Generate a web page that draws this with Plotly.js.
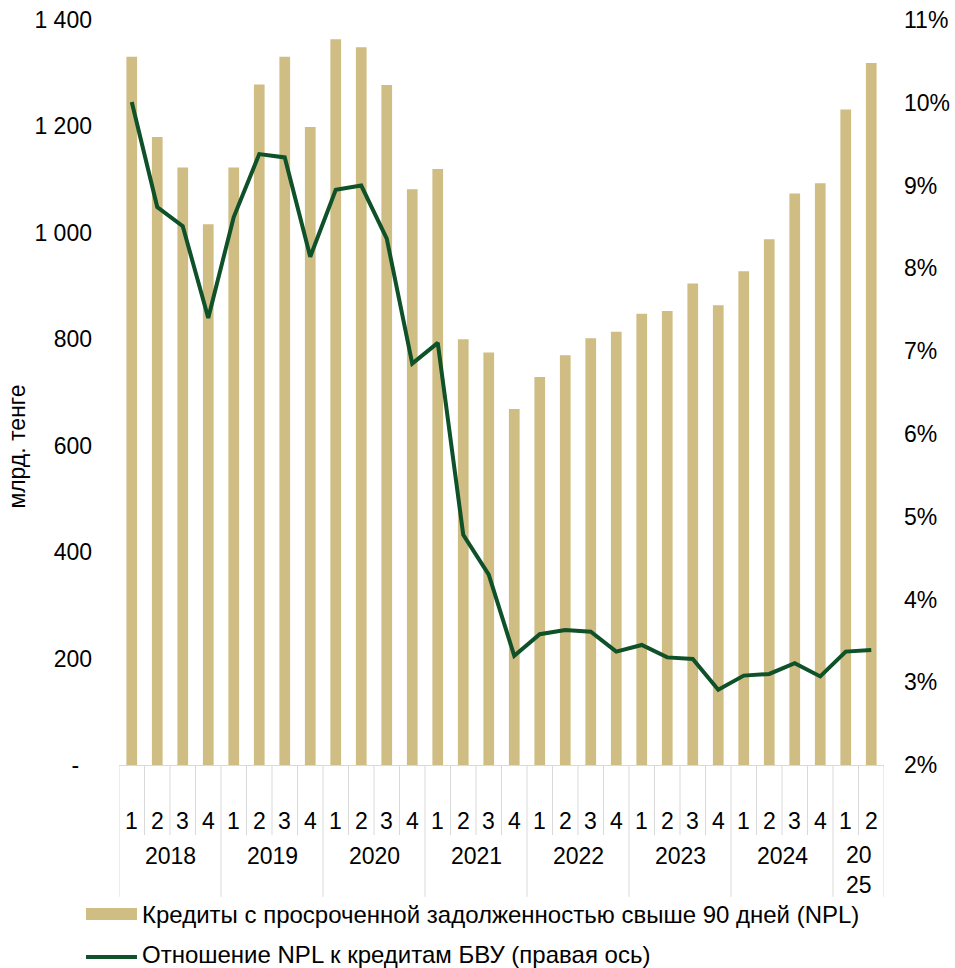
<!DOCTYPE html>
<html>
<head>
<meta charset="utf-8">
<script src="https://cdn.plot.ly/plotly-3.0.1.min.js"></script>
<style>html,body{margin:0;padding:0;background:#fff;}#chart{width:955px;height:968px;}</style>
</head>
<body>
<div id="chart"></div>
<script>
// Years (outer level) and quarters (inner level) of each bar
const years = ["2018","2018","2018","2018","2019","2019","2019","2019","2020","2020","2020","2020",
  "2021","2021","2021","2021","2022","2022","2022","2022","2023","2023","2023","2023",
  "2024","2024","2024","2024","2025","2025"];
const quarters = ["1","2","3","4","1","2","3","4","1","2","3","4","1","2","3","4",
  "1","2","3","4","1","2","3","4","1","2","3","4","1","2"];
// Year tick labels (as printed under the axis)
const yearList = ["2018","2019","2020","2021","2022","2023","2024","2025"];
const yearLabels = ["2018","2019","2020","2021","2022","2023","2024","20<br>25"];

// NPL, bln tenge (left axis)
const nplValues = [1331,1180,1123,1016,1123,1279,1331,1199,1364,1349,1278,1082,
  1120,800,775,669,729,770,802,814,848,853,905,864,928,988,1074,1093,1232,1319];
// NPL ratio, % (right axis)
const nplRatio = [10.01,8.74,8.51,7.40,8.62,9.38,9.34,8.14,8.95,9.00,8.36,6.85,
  7.10,4.78,4.30,3.32,3.58,3.63,3.61,3.37,3.45,3.30,3.28,2.91,3.08,3.10,3.23,3.07,3.37,3.39];

const leftTickVals = [0,200,400,600,800,1000,1200,1400];
const leftTickText = ["-\u00a0\u00a0","200","400","600","800","1 000","1 200","1 400"];
const rightTickVals = [2,3,4,5,6,7,8,9,10,11];
const rightTickText = ["2%","3%","4%","5%","6%","7%","8%","9%","10%","11%"];

const seriesNames = ["Кредиты с просроченной задолженностью свыше 90 дней (NPL)",
  "Отношение NPL к кредитам БВУ (правая ось)"];
const yTitle = "млрд. тенге";

const FONT = "Liberation Sans, Arial, sans-serif";
const FS = 23;
const barColor = "#CFBD83";
const lineColor = "#0F5128";
const sepColor = "#D9D9D9";

// category keys built from the arrays
const cats = years.map((y, i) => y + " Q" + quarters[i]);

const traces = [
  {
    type: "bar",
    x: cats,
    y: nplValues,
    name: seriesNames[0],
    marker: {color: barColor},
    yaxis: "y",
    showlegend: false
  },
  {
    type: "scatter",
    mode: "lines",
    x: cats,
    y: nplRatio,
    name: seriesNames[1],
    line: {color: lineColor, width: 4},
    yaxis: "y2",
    showlegend: false
  }
];

// --- axis decorations: quarter / year labels and separators (in axis units) ---
const annotations = [];
const shapes = [];
const QY = -0.0752;   // quarter label row
const YY = -0.1215;   // year label row
const QSEP = -0.094;  // quarter separator bottom
const YSEP = -0.177;  // year separator bottom

quarters.forEach((q, i) => {
  annotations.push({
    text: q, x: i, xref: "x", y: QY, yref: "paper",
    xanchor: "center", yanchor: "middle", showarrow: false,
    font: {family: FONT, size: FS, color: "#000"}
  });
});
yearList.forEach((yr, k) => {
  const idx = years.map((y, i) => y === yr ? i : -1).filter(i => i >= 0);
  const first = idx[0], last = idx[idx.length - 1];
  const multi = yearLabels[k].indexOf("<br>") >= 0;
  annotations.push({
    text: yearLabels[k], x: (first + last) / 2, xref: "x",
    y: multi ? YY - 0.0188 : YY, yref: "paper",
    xanchor: "center", yanchor: "middle", showarrow: false,
    font: {family: FONT, size: FS, color: "#000"}
  });
});
years.forEach((y, i) => {
  const yearStart = (i === 0) || (years[i - 1] !== y);
  shapes.push({
    type: "line", xref: "x", yref: "paper",
    x0: i - 0.5, x1: i - 0.5, y0: 0, y1: yearStart ? YSEP : QSEP,
    line: {color: sepColor, width: 1}
  });
});
shapes.push({
  type: "line", xref: "x", yref: "paper",
  x0: years.length - 0.5, x1: years.length - 0.5, y0: 0, y1: YSEP,
  line: {color: sepColor, width: 1}
});

// --- legend (drawn as swatches + text below the axis) ---
shapes.push({
  type: "rect", xref: "paper", yref: "paper",
  x0: -0.0431, x1: 0.0235, y0: -0.192, y1: -0.208,
  fillcolor: barColor, line: {width: 0}
});
shapes.push({
  type: "line", xref: "paper", yref: "paper",
  x0: -0.0431, x1: 0.0235, y0: -0.2577, y1: -0.2577,
  line: {color: lineColor, width: 4}
});
annotations.push({
  text: seriesNames[0], xref: "paper", yref: "paper",
  x: 0.029, y: -0.2, xanchor: "left", yanchor: "middle", showarrow: false,
  borderpad: 0,
  font: {family: FONT, size: 24, color: "#000"}
});
annotations.push({
  text: seriesNames[1], xref: "paper", yref: "paper",
  x: 0.029, y: -0.2545, xanchor: "left", yanchor: "middle", showarrow: false,
  borderpad: 0,
  font: {family: FONT, size: 24, color: "#000"}
});

// --- y axis title ---
annotations.push({
  text: yTitle, xref: "paper", yref: "paper",
  x: -0.1327, y: 0.428, xanchor: "center", yanchor: "middle",
  textangle: -90, showarrow: false,
  font: {family: FONT, size: FS, color: "#000"}
});

const layout = {
  width: 955,
  height: 968,
  margin: {l: 119, r: 71, t: 20, b: 203},
  paper_bgcolor: "#fff",
  plot_bgcolor: "#fff",
  font: {family: FONT, size: FS, color: "#000"},
  bargap: 0.58,
  showlegend: false,
  xaxis: {
    type: "category",
    range: [-0.5, years.length - 0.5],
    showline: true,
    linecolor: sepColor,
    linewidth: 1,
    ticks: "",
    showticklabels: false,
    showgrid: false,
    zeroline: false
  },
  yaxis: {
    range: [0, 1400],
    tickvals: leftTickVals,
    ticktext: leftTickText,
    showgrid: false,
    zeroline: false,
    showline: false,
    ticks: "",
    ticklabelstandoff: 26,
    tickfont: {family: FONT, size: FS, color: "#000"}
  },
  yaxis2: {
    range: [2, 11],
    overlaying: "y",
    side: "right",
    tickvals: rightTickVals,
    ticktext: rightTickText,
    showgrid: false,
    zeroline: false,
    showline: false,
    ticks: "",
    ticklabelstandoff: 19,
    tickfont: {family: FONT, size: FS, color: "#000"}
  },
  shapes: shapes,
  annotations: annotations
};

Plotly.newPlot("chart", traces, layout, {displayModeBar: false, staticPlot: true});
</script>
</body>
</html>
